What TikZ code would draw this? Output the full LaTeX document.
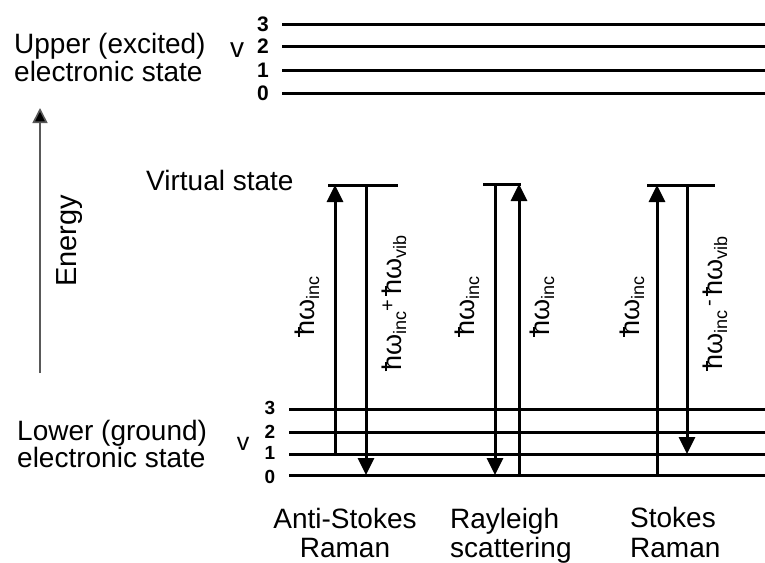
\documentclass[tikz,border=0pt]{standalone}
\usepackage{fontspec}
\setmainfont{Liberation Sans}
\usetikzlibrary{arrows.meta}
\newcommand\hbr{\makebox[0pt][l]{\kern-0.04em\raisebox{0.53em}{\rule{0.36em}{0.075em}}}h}
\newcommand\hw{\hbr ω}
\newcommand\lowtxt[1]{\raisebox{-5pt}{\fontsize{18}{18}\selectfont #1}}
\newcommand\hightxt[1]{\raisebox{7pt}{\fontsize{20}{20}\selectfont #1}}
\begin{document}
\begin{tikzpicture}[x=1pt,y=-1pt,
  lvl/.style={line width=3pt},
  tr/.style={line width=3pt,-{Triangle[width=16pt,length=17pt]}},
  txt/.style={inner sep=0pt,font=\fontsize{28}{28}\selectfont},
  num/.style={inner sep=0pt,font=\fontsize{21}{21}\selectfont\bfseries},
  lab/.style={inner sep=0pt,rotate=90,anchor=base,font=\fontsize{27}{27}\selectfont}]
\fill[white] (0,0) rectangle (765,562);
\useasboundingbox (0,0) rectangle (765,562);
% upper levels
\foreach \n/\y in {3/24,2/46,1/70,0/93}{
  \coordinate (u\n w) at (282,\y);
  \coordinate (u\n e) at (765,\y);
  \draw[lvl] (u\n w) -- (u\n e);
  \node[num] (un\n) at (263,\y) {\n};
}
\node[inner sep=0pt,font=\fontsize{28}{28}\selectfont] (uv) at (237,50) {v};
\node[txt,anchor=base west] (up1) at (14,53) {Upper (excited)};
\node[txt,anchor=base west] (up2) at (14,81) {electronic state};
% lower levels
\foreach \n/\y/\ty in {3/409/408,2/432/432,1/454/453,0/475/477}{
  \coordinate (l\n w) at (289,\y);
  \coordinate (l\n e) at (765,\y);
  \draw[lvl] (l\n w) -- (l\n e);
  \node[num,font=\fontsize{19}{19}\selectfont\bfseries] (ln\n) at (270,\ty) {\n};
}
\node[inner sep=0pt,font=\fontsize{25}{25}\selectfont] (lv) at (243,444) {v};
\node[txt,anchor=base west] (lo1) at (17,440) {Lower (ground)};
\node[txt,anchor=base west] (lo2) at (17,467) {electronic state};
% energy axis
\coordinate (e0) at (40,373);
\coordinate (e1) at (40,108);
\draw[line width=1.6pt,draw=black!65,-{Triangle[width=15pt,length=15pt,fill=black]}] (e0) -- (e1);
\node[txt,rotate=90,anchor=base,font=\fontsize{29}{29}\selectfont] (energy) at (76,241) {Energy};
% virtual states
\node[txt,anchor=base west] (virt) at (146,190) {Virtual state};
\coordinate (asvw) at (328,185); \coordinate (asve) at (398,185);
\coordinate (rvw) at (483,184); \coordinate (rve) at (521,184);
\coordinate (svw) at (647,185); \coordinate (sve) at (715,185);
\draw[lvl] (asvw) -- (asve);
\draw[lvl] (rvw) -- (rve);
\draw[lvl] (svw) -- (sve);
% transitions
\coordinate (a1b) at (335,454); \coordinate (a1t) at (335,185);
\coordinate (a2t) at (366,185); \coordinate (a2b) at (366,475);
\coordinate (r1t) at (495,184); \coordinate (r1b) at (495,475);
\coordinate (r2b) at (519,475); \coordinate (r2t) at (519,184);
\coordinate (s1b) at (657,475); \coordinate (s1t) at (657,185);
\coordinate (s2t) at (687,185); \coordinate (s2b) at (687,454);
\draw[tr] (a1b) -- (a1t);
\draw[tr] (a2t) -- (a2b);
\draw[tr] (r1t) -- (r1b);
\draw[tr] (r2b) -- (r2t);
\draw[tr] (s1b) -- (s1t);
\draw[tr] (s2t) -- (s2b);
% transition labels
\node[lab] (la1) at (314,306) {\hw\lowtxt{inc}};
\node[lab] (la2) at (401,303) {\hw\lowtxt{inc}\hightxt{+}\,\hw\lowtxt{vib}};
\node[lab] (lr1) at (474,306) {\hw\lowtxt{inc}};
\node[lab] (lr2) at (549,306) {\hw\lowtxt{inc}};
\node[lab] (ls1) at (639,306) {\hw\lowtxt{inc}};
\node[lab] (ls2) at (722,303) {\hw\lowtxt{inc}\,\hightxt{-}\,\hw\lowtxt{vib}};
% bottom labels
\node[txt,anchor=base] (as1) at (345,528) {Anti-Stokes};
\node[txt,anchor=base] (as2) at (345,557) {Raman};
\node[txt,anchor=base west] (ry1) at (450,528) {Rayleigh};
\node[txt,anchor=base west] (ry2) at (450,557) {scattering};
\node[txt,anchor=base west] (st1) at (630,527) {Stokes};
\node[txt,anchor=base west] (st2) at (630,557) {Raman};
\end{tikzpicture}
\end{document}
